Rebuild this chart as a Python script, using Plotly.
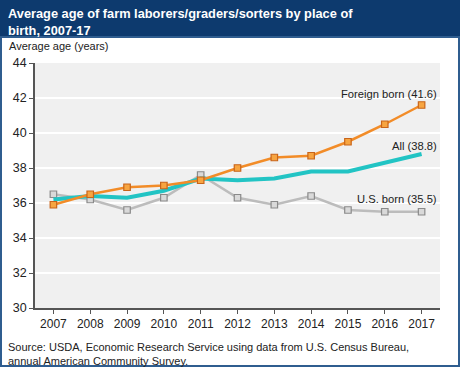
import plotly.graph_objects as go

years = list(range(2007, 2018))
foreign_born = [35.9, 36.5, 36.9, 37.0, 37.3, 38.0, 38.6, 38.7, 39.5, 40.5, 41.6]
all_workers = [36.2, 36.4, 36.3, 36.7, 37.4, 37.3, 37.4, 37.8, 37.8, 38.3, 38.8]
us_born = [36.5, 36.2, 35.6, 36.3, 37.6, 36.3, 35.9, 36.4, 35.6, 35.5, 35.5]
y_ticks = [30, 32, 34, 36, 38, 40, 42, 44]

W, H = 460, 367
L, R, T, B = 35, 20, 63, 59
pw, ph = W - L - R, H - T - B

def px(x):
    return (x - L) / pw

def py(y):
    return (H - B - y) / ph

NAVY = "#0d3a6e"
FONT = "Liberation Sans, Arial, sans-serif"

fig = go.Figure()
fig.add_trace(go.Scatter(x=years, y=us_born, mode="lines+markers",
                         line=dict(color="#bcbcbc", width=2.5),
                         marker=dict(symbol="square", size=6.5, color="#d9d9d9",
                                     line=dict(color="#8a8a8a", width=1.2)),
                         name="U.S. born"))
fig.add_trace(go.Scatter(x=years, y=all_workers, mode="lines",
                         line=dict(color="#22c4c4", width=4), name="All"))
fig.add_trace(go.Scatter(x=years, y=foreign_born, mode="lines+markers",
                         line=dict(color="#f28c28", width=2.5),
                         marker=dict(symbol="square", size=6.5, color="#f7a541",
                                     line=dict(color="#c8641a", width=1.2)),
                         name="Foreign born"))

shapes = [
    dict(type="rect", xref="paper", yref="paper", x0=px(0), x1=px(W), y0=py(37), y1=py(0),
         fillcolor=NAVY, line=dict(width=0), layer="below"),
    dict(type="rect", xref="paper", yref="paper", x0=px(1), x1=px(459), y0=py(366), y1=py(37),
         fillcolor="rgba(0,0,0,0)", line=dict(color="#2f5d8f", width=2)),
]

annotations = [
    dict(text="<b>Average age of farm laborers/graders/sorters by place of<br>birth, 2007-17</b>",
         xref="paper", yref="paper", x=px(6), y=py(4), xanchor="left", yanchor="top",
         showarrow=False, align="left", font=dict(color="white", size=12.8, family=FONT)),
    dict(text="Average age (years)", xref="paper", yref="paper", x=px(7), y=py(46),
         xanchor="left", yanchor="middle", showarrow=False,
         font=dict(color="#222", size=11, family=FONT)),
    dict(text="Foreign born (41.6)", xref="paper", yref="paper", x=px(439), y=py(94),
         xanchor="right", yanchor="middle", showarrow=False,
         font=dict(color="#222", size=11.2, family=FONT)),
    dict(text="All (38.8)", xref="paper", yref="paper", x=px(439), y=py(146),
         xanchor="right", yanchor="middle", showarrow=False,
         font=dict(color="#222", size=11.2, family=FONT)),
    dict(text="U.S. born (35.5)", xref="paper", yref="paper", x=px(439), y=py(199),
         xanchor="right", yanchor="middle", showarrow=False,
         font=dict(color="#222", size=11.2, family=FONT)),
    dict(text="Source: USDA, Economic Research Service using data from U.S. Census Bureau,<br>annual American Community Survey.",
         xref="paper", yref="paper", x=px(6), y=py(339), xanchor="left", yanchor="top",
         showarrow=False, align="left", font=dict(color="#222", size=11, family=FONT)),
]

fig.update_layout(
    width=W, height=H,
    margin=dict(l=L, r=R, t=T, b=B),
    paper_bgcolor="white", plot_bgcolor="#f0f0f0",
    showlegend=False,
    shapes=shapes, annotations=annotations,
    font=dict(family=FONT, color="#222", size=12),
    xaxis=dict(range=[2006.5, 2017.5], tickvals=years, ticktext=[str(y) for y in years],
               showgrid=False, zeroline=False, showline=True, linecolor="#555", linewidth=1.5,
               ticks="outside", ticklen=4, tickcolor="#555", tickfont=dict(size=12)),
    yaxis=dict(range=[30, 44], tickvals=y_ticks, showgrid=True, gridcolor="white", gridwidth=1.5,
               zeroline=False, showline=True, linecolor="#555", linewidth=1.5,
               ticks="outside", ticklen=4, tickcolor="#555", tickfont=dict(size=12.5)),
)

fig.write_html("out.html", config={"displayModeBar": False},
               post_script="document.body.style.margin='0';document.body.style.overflow='hidden';")
